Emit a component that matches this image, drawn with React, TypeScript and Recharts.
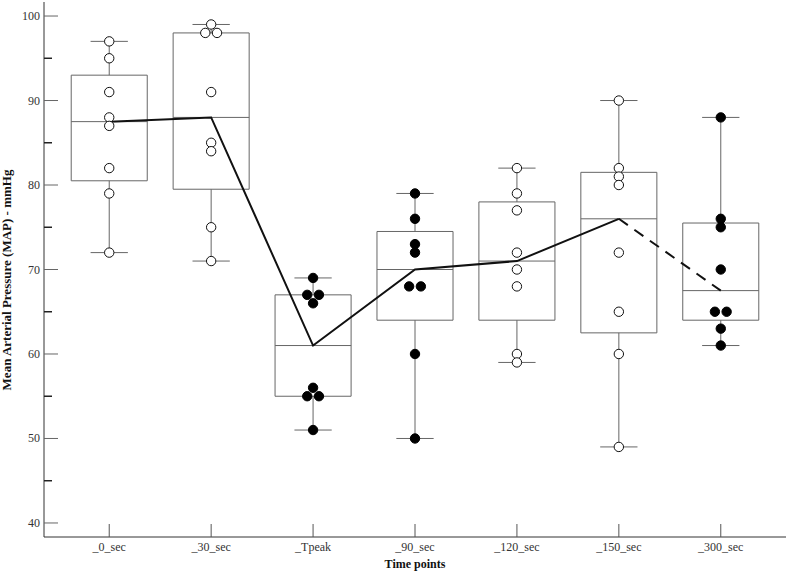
import React from "react";
import { ComposedChart, Line, Scatter, XAxis, YAxis } from "recharts";

const categories = ["_0_sec", "_30_sec", "_Tpeak", "_90_sec", "_120_sec", "_150_sec", "_300_sec"];
const lowerQuartile = [80.5, 79.5, 55, 64, 64, 62.5, 64];
const medians = [87.5, 88, 61, 70, 71, 76, 67.5];
const upperQuartile = [93, 98, 67, 74.5, 78, 81.5, 75.5];
const whiskerLow = [72, 71, 51, 50, 59, 49, 61];
const whiskerHigh = [97, 99, 69, 79, 82, 90, 88];
const observations = [
  [97, 95, 91, 88, 87, 82, 79, 72],
  [99, 98, 98, 91, 85, 84, 75, 71],
  [69, 67, 67, 66, 56, 55, 55, 51],
  [79, 76, 73, 72, 68, 68, 60, 50],
  [82, 79, 77, 72, 70, 68, 60, 59],
  [90, 82, 81, 80, 72, 65, 60, 49],
  [88, 76, 75, 70, 65, 65, 63, 61],
];
const filledGroups = [false, false, true, true, false, false, true];
const yTicks = [40, 45, 50, 55, 60, 65, 70, 75, 80, 85, 90, 95, 100];
const xTicks = categories.map((_, i) => i);

const FONT = "'Liberation Serif', 'Times New Roman', serif";
const BOX_HALF = 0.373;
const CAP_HALF = 0.183;
const JITTER = 0.115;

type Pt = { x: number; y: number | null };

// box outlines, medians, whiskers and caps as one broken polyline
const boxSegments: Pt[] = [];
categories.forEach((_, i) => {
  const lo = lowerQuartile[i];
  const hi = upperQuartile[i];
  const md = medians[i];
  const parts: Pt[][] = [
    [
      { x: i - BOX_HALF, y: lo },
      { x: i + BOX_HALF, y: lo },
      { x: i + BOX_HALF, y: hi },
      { x: i - BOX_HALF, y: hi },
      { x: i - BOX_HALF, y: lo },
    ],
    [
      { x: i - BOX_HALF, y: md },
      { x: i + BOX_HALF, y: md },
    ],
    [
      { x: i, y: hi },
      { x: i, y: whiskerHigh[i] },
    ],
    [
      { x: i - CAP_HALF, y: whiskerHigh[i] },
      { x: i + CAP_HALF, y: whiskerHigh[i] },
    ],
    [
      { x: i, y: lo },
      { x: i, y: whiskerLow[i] },
    ],
    [
      { x: i - CAP_HALF, y: whiskerLow[i] },
      { x: i + CAP_HALF, y: whiskerLow[i] },
    ],
  ];
  parts.forEach((p) => {
    boxSegments.push(...p, { x: i, y: null });
  });
});

// spread duplicated values side by side
function pointsFor(filled: boolean) {
  const out: { x: number; y: number }[] = [];
  observations.forEach((vals, i) => {
    if (filledGroups[i] !== filled) return;
    const seen: Record<number, number> = {};
    vals.forEach((v) => {
      const n = vals.filter((w) => w === v).length;
      const k = seen[v] ?? 0;
      seen[v] = k + 1;
      out.push({ x: i + (k - (n - 1) / 2) * JITTER, y: v });
    });
  });
  return out;
}

const openPoints = pointsFor(false);
const filledPoints = pointsFor(true);
const medianSolid = medians.slice(0, 6).map((m, i) => ({ x: i, y: m }));
const medianDashed = medians.slice(5).map((m, i) => ({ x: i + 5, y: m }));

const XTick = ({ x, y, payload }: any) => (
  <g>
    <line x1={x} x2={x} y1={y} y2={y - 13} stroke="#555" />
    <text x={x} y={y + 14} textAnchor="middle" fontSize={12} fill="#333" fontFamily={FONT}>
      {categories[payload.value]}
    </text>
  </g>
);

const YTick = ({ x, y, payload }: any) => {
  const major = payload.value % 10 === 0;
  return (
    <g>
      <line
        x1={x}
        x2={x + (major ? 14 : 8)}
        y1={y}
        y2={y}
        stroke={major ? "#666" : "#222"}
        strokeWidth={major ? 1 : 1.5}
      />
      {major && (
        <text x={x - 4} y={y + 4} textAnchor="end" fontSize={12} fill="#333" fontFamily={FONT}>
          {payload.value}
        </text>
      )}
    </g>
  );
};

const openDot = (p: any) => <circle cx={p.cx} cy={p.cy} r={4.7} fill="#fff" stroke="#111" strokeWidth={1} />;
const filledDot = (p: any) => <circle cx={p.cx} cy={p.cy} r={4.7} fill="#000" stroke="#000" strokeWidth={1} />;

export default function App() {
  return (
    <div style={{ position: "absolute", left: 0, top: 0, background: "#fff" }}>
      <ComposedChart width={787} height={572} margin={{ top: 2, right: 1, bottom: 0, left: 0 }}>
        <XAxis
          type="number"
          dataKey="x"
          domain={[-0.64, 6.64]}
          ticks={xTicks}
          interval={0}
          allowDataOverflow
          height={35}
          tickSize={0}
          tickMargin={0}
          tick={XTick}
          axisLine={{ stroke: "#333" }}
          label={{
            content: ({ viewBox }: any) => (
              <text
                x={viewBox.x + viewBox.width / 2}
                y={568}
                textAnchor="middle"
                fontSize={12}
                fontWeight="bold"
                fontFamily={FONT}
                fill="#111"
              >
                Time points
              </text>
            ),
          }}
        />
        <YAxis
          type="number"
          domain={[38.34, 101.66]}
          ticks={yTicks}
          interval={0}
          allowDataOverflow
          width={44}
          tickSize={0}
          tickMargin={0}
          tick={YTick}
          axisLine={{ stroke: "#333" }}
          label={{
            content: () => (
              <text
                x={11}
                y={280}
                transform="rotate(-90 11 280)"
                textAnchor="middle"
                fontSize={13}
                fontWeight="bold"
                fontFamily={FONT}
                fill="#111"
              >
                Mean Arterial Pressure (MAP) - mmHg
              </text>
            ),
          }}
        />
        <Line
          data={boxSegments}
          dataKey="y"
          stroke="#666"
          strokeWidth={1}
          dot={false}
          activeDot={false}
          connectNulls={false}
          isAnimationActive={false}
        />
        <Line
          data={medianSolid}
          dataKey="y"
          stroke="#111"
          strokeWidth={2}
          dot={false}
          activeDot={false}
          isAnimationActive={false}
        />
        <Line
          data={medianDashed}
          dataKey="y"
          stroke="#111"
          strokeWidth={2}
          strokeDasharray="11 8"
          dot={false}
          activeDot={false}
          isAnimationActive={false}
        />
        <Scatter data={openPoints} dataKey="y" shape={openDot} isAnimationActive={false} />
        <Scatter data={filledPoints} dataKey="y" shape={filledDot} isAnimationActive={false} />
      </ComposedChart>
    </div>
  );
}
